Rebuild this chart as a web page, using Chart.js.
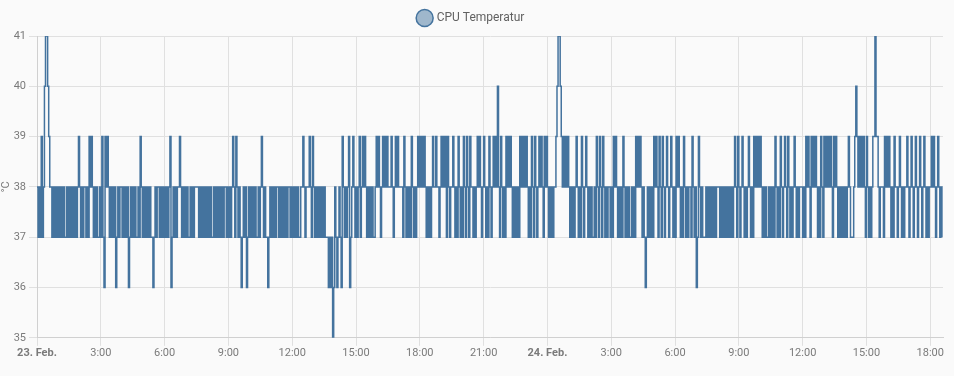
<!DOCTYPE html>
<html><head><meta charset="utf-8">
<script src="https://cdn.jsdelivr.net/npm/chart.js@4"></script>
<style>
html,body{margin:0;padding:0;background:#fafafa;}
#wrap{width:954px;height:376px;position:relative;}
</style>
</head><body>
<div id="wrap"><canvas id="c"></canvas></div>
<script>
const seriesName = 'CPU Temperatur';
const unitLabel = '°C';
const stepMinutes = 3;
// one character per 3-minute reading from 23. Feb 00:00: 5..9 = 35..39 °C, A = 40 °C, B = 41 °C
const temperatureCodes = [
  '8787978ABB','A988787878','7878787787','8787878789','8787887879',
  '8987878778','7976989878','7878678788','7878786787','8787787987',
  '8787878776','7878878787','8787896787','8788987878','7877878788',
  '8878787878','7878778787','8787878878','7878987987','8767878678',
  '7878787787','8987877678','7878788787','8787878878','7878787788',
  '9878889879','8787878787','8777676756','8767876987','8789678987',
  '8789789898','7878787789','8987898989','8889878989','8888798787',
  '8798787898','9898987878','7898898878','9898979878','8987879878',
  '7987987988','7878989878','9878798789','898A879878','7989898787',
  '8787989898','9878798798','7898987989','878787889A','BBA9898989',
  '8787878987','8798789878','7877879879','8798787887','8798987878',
  '7987878778','7879898987','8767878787','9898798798','7898789878',
  '7989878798','7878879878','6798787778','7878787878','8878787878',
  '7878789879','8789878789','8787989898','9878787787','8787987879',
  '8789879878','7898787888','7879898798','9898787987','9898989879',
  '8987878787','8789877789','A989898987','98787899B9','9878887989',
  '8987879887','8987878898','7898789878','9878987878','8989878987',
  '87'
];
const codeValues = {'5':35,'6':36,'7':37,'8':38,'9':39,'A':40,'B':41};
const yTickValues = [35,36,37,38,39,40,41];
const xTickHours = [0,3,6,9,12,15,18,21,24,27,30,33,36,39,42];
const xTickLabels = ['23. Feb.','3:00','6:00','9:00','12:00','15:00','18:00','21:00','24. Feb.','3:00','6:00','9:00','12:00','15:00','18:00'];
const dayTickHours = [0,24];
const xMaxHours = 42.6;

const codes = temperatureCodes.join('').split('');
const points = codes.map((c,i)=>({x: i*stepMinutes/60, y: codeValues[c]}));

const legendGap = {
  id:'legendGap',
  beforeLayout(chart){
    const lg = chart.legend;
    if (lg && !lg._gapPatched){
      const orig = lg.fit.bind(lg);
      lg.fit = function(){ orig(); this.height += 2; };
      lg._gapPatched = true;
    }
  }
};

const tickColor = '#7a7a7a';
new Chart(document.getElementById('c'), {
  type:'line',
  data:{datasets:[{
    label: seriesName,
    data: points,
    stepped:'before',
    borderColor:'#44739e',
    backgroundColor:'rgba(68,115,158,0.5)',
    borderWidth:1.5,
    pointRadius:0,
    pointHoverRadius:0,
    fill:false
  }]},
  plugins:[legendGap],
  options:{
    responsive:true,
    maintainAspectRatio:false,
    animation:false,
    layout:{padding:{left:0,right:11,top:2,bottom:15}},
    plugins:{
      legend:{labels:{usePointStyle:true,pointStyle:'circle',color:'#616161',font:{family:'Roboto',size:12},padding:10}},
      tooltip:{enabled:false}
    },
    scales:{
      x:{
        type:'linear',min:0,max:xMaxHours,
        afterBuildTicks:(s)=>{ s.ticks = xTickHours.map(v=>({value:v})); },
        ticks:{
          autoSkip:false,maxRotation:0,color:tickColor,padding:1,
          callback:(v)=>{ const k = xTickHours.indexOf(v); return k>=0 ? xTickLabels[k] : ''; },
          font:(ctx)=>({family:'Roboto',size:11,weight: (ctx.tick && dayTickHours.includes(ctx.tick.value)) ? 'bold' : 'normal'})
        },
        grid:{color:'#e0e0e0'},
        border:{color:'#d0d0d0'}
      },
      y:{
        min:35,max:41,
        afterBuildTicks:(s)=>{ s.ticks = yTickValues.map(v=>({value:v})); },
        afterFit:(s)=>{ s.width = 37; },
        ticks:{color:tickColor,font:{family:'Roboto',size:11}},
        title:{display:true,text:unitLabel,color:tickColor,font:{family:'Roboto',size:11},padding:0},
        grid:{color:'#e0e0e0'},
        border:{color:'#d0d0d0'}
      }
    }
  }
});
</script>
</body></html>
